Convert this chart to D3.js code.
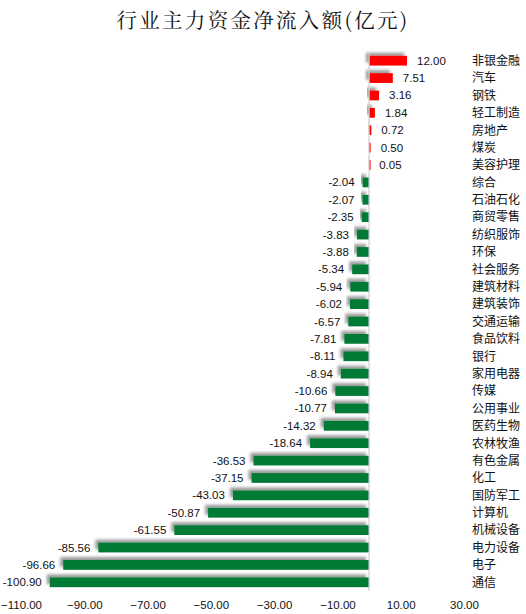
<!DOCTYPE html>
<html>
<head>
<meta charset="utf-8">
<script src="https://cdn.jsdelivr.net/npm/d3@7"></script>
<style>
  body { margin: 0; background: #fff; }
  svg { display: block; font-family: "Noto Sans CJK SC", "DejaVu Sans", sans-serif; }
</style>
</head>
<body>
<div id="chart"></div>
<script>
// industry names, top to bottom
var industries = ['非银金融','汽车','钢铁','轻工制造','房地产','煤炭','美容护理','综合','石油石化','商贸零售',
  '纺织服饰','环保','社会服务','建筑材料','建筑装饰','交通运输','食品饮料','银行','家用电器','传媒',
  '公用事业','医药生物','农林牧渔','有色金属','化工','国防军工','计算机','机械设备','电力设备','电子','通信'];
// net inflow, 亿元
var inflow = [12.00, 7.51, 3.16, 1.84, 0.72, 0.50, 0.05, -2.04, -2.07, -2.35,
  -3.83, -3.88, -5.34, -5.94, -6.02, -6.57, -7.81, -8.11, -8.94, -10.66,
  -10.77, -14.32, -18.64, -36.53, -37.15, -43.03, -50.87, -61.55, -85.56, -96.66, -100.90];
var xTicks = [-110, -90, -70, -50, -30, -10, 10, 30];

var data = industries.map(function(d, i) { return {name: d, value: inflow[i]}; });

var width = 526, height = 614;

var svg = d3.select("#chart")
  .append("svg")
    .attr("width", width)
    .attr("height", height);

// soft shadow up-left of each bar
var filter = svg.append("defs").append("filter")
  .attr("id", "shadow")
  .attr("x", "-20%").attr("y", "-60%")
  .attr("width", "140%").attr("height", "220%");
filter.append("feDropShadow")
  .attr("dx", -3).attr("dy", -3)
  .attr("stdDeviation", 1.6)
  .attr("flood-color", "#000")
  .attr("flood-opacity", 0.4);

var x = d3.scaleLinear()
  .domain([-110, 30])
  .range([21, 464]);

var y = d3.scaleBand()
  .domain(industries)
  .range([52, 591])
  .paddingInner(0.44)
  .paddingOuter(0.22);

// title
svg.append("text")
  .attr("x", 263)
  .attr("y", 28)
  .attr("text-anchor", "middle")
  .style("font-family", "'Noto Serif CJK SC', 'Noto Sans CJK SC', serif")
  .style("font-size", "20.5px")
  .style("letter-spacing", "2.3px")
  .style("fill", "#111")
  .text("行业主力资金净流入额(亿元)");

// bars
svg.selectAll(".bar")
  .data(data)
  .enter()
  .append("rect")
    .attr("class", "bar")
    .attr("x", function(d) { return d.value < 0 ? x(d.value) : x(0); })
    .attr("y", function(d) { return y(d.name); })
    .attr("width", function(d) { return Math.max(Math.abs(x(d.value) - x(0)), 1.5); })
    .attr("height", y.bandwidth())
    .attr("filter", "url(#shadow)")
    .style("fill", function(d) { return d.value >= 0 ? "#ff0000" : "#027a36"; });

// zero line
svg.append("line")
  .attr("x1", x(0)).attr("x2", x(0))
  .attr("y1", 52).attr("y2", 591)
  .style("stroke", "#d0d0d0")
  .style("stroke-width", 1.2);

// value labels
svg.selectAll(".val")
  .data(data)
  .enter()
  .append("text")
    .attr("class", "val")
    .attr("x", function(d) { return d.value < 0 ? x(d.value) - 8 : x(d.value) + 10; })
    .attr("y", function(d) { return y(d.name) + y.bandwidth() / 2; })
    .attr("dy", "0.35em")
    .attr("text-anchor", function(d) { return d.value < 0 ? "end" : "start"; })
    .style("font-family", "'Liberation Sans', Arial, sans-serif")
    .style("font-size", "11.5px")
    .style("fill", "#111")
    .text(function(d) { return d.value.toFixed(2); });

// category labels on the right
svg.selectAll(".cat")
  .data(data)
  .enter()
  .append("text")
    .attr("class", "cat")
    .attr("x", 472)
    .attr("y", function(d) { return y(d.name) + y.bandwidth() / 2; })
    .attr("dy", "0.36em")
    .style("font-size", "12px")
    .style("fill", "#111")
    .text(function(d) { return d.name; });

// x axis labels, no line
var axis = svg.append("g")
  .attr("transform", "translate(0,596)")
  .call(d3.axisBottom(x).tickValues(xTicks).tickSize(0).tickFormat(d3.format(".2f")));
axis.select(".domain").remove();
axis.selectAll("text")
  .attr("dy", "0.9em")
  .style("font-family", "'Liberation Sans', Arial, sans-serif")
  .style("font-size", "11.5px")
  .style("fill", "#111");
</script>
</body>
</html>
